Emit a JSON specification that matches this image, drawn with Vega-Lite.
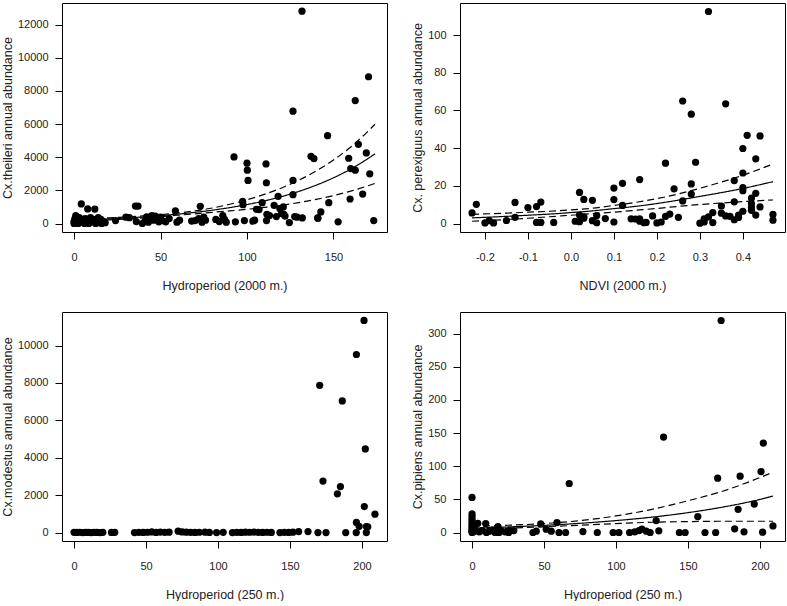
{
"$schema": "https://vega.github.io/schema/vega-lite/v6.json",
"padding": {"left": 0, "top": 2, "right": 0, "bottom": 0},
"bounds": "flush",
"columns": 2,
"spacing": {"row": 80, "column": 73},
"datasets": {
"p1": [
{"x":0,"y":0},{"x":0,"y":120},{"x":0.5,"y":300},{"x":1,"y":480},{"x":1.5,"y":60},{"x":2,"y":200},{"x":2.5,"y":0},{"x":3,"y":350},{"x":4.2,"y":1180},{"x":4.5,"y":100},{"x":5,"y":250},{"x":6,"y":0},{"x":6.5,"y":300},{"x":7.5,"y":150},{"x":7.9,"y":880},{"x":8.5,"y":0},{"x":9.5,"y":350},{"x":10,"y":100},{"x":11,"y":250},{"x":12,"y":870},{"x":12.5,"y":0},{"x":13,"y":150},{"x":14,"y":350},{"x":14.5,"y":60},{"x":15.5,"y":250},{"x":16,"y":0},{"x":17,"y":120},{"x":18,"y":50},
{"x":24,"y":180},{"x":30,"y":380},{"x":32,"y":350},{"x":35.5,"y":1050},{"x":36,"y":120},{"x":37,"y":1050},{"x":39.5,"y":0},{"x":41,"y":150},{"x":42,"y":400},{"x":43,"y":80},{"x":44,"y":300},{"x":45,"y":480},{"x":46,"y":200},{"x":47,"y":450},{"x":48,"y":300},{"x":49,"y":100},{"x":50,"y":380},{"x":51,"y":180},{"x":53,"y":100},{"x":55,"y":300},{"x":58.6,"y":760},{"x":59.5,"y":80},{"x":61,"y":200},
{"x":68,"y":150},{"x":70,"y":180},{"x":72,"y":300},{"x":73,"y":1040},{"x":74,"y":80},{"x":75,"y":380},{"x":76,"y":200},{"x":82,"y":250},{"x":84,"y":120},{"x":86,"y":480},{"x":87,"y":250},{"x":88,"y":80},
{"x":92.5,"y":4020},{"x":93.3,"y":100},{"x":97.5,"y":1340},{"x":97.7,"y":1140},{"x":98.5,"y":180},{"x":100,"y":3640},{"x":100.2,"y":3220},{"x":100.6,"y":2600},{"x":103.4,"y":140},{"x":104.4,"y":200},{"x":105.5,"y":860},{"x":107,"y":840},{"x":108.8,"y":1260},{"x":111,"y":3600},{"x":111.2,"y":2460},{"x":111.3,"y":180},{"x":111.5,"y":560},{"x":113,"y":480},{"x":115.7,"y":1100},{"x":117,"y":420},{"x":118,"y":1640},{"x":119,"y":900},{"x":120,"y":600},{"x":121,"y":1000},{"x":121.3,"y":560},{"x":122,"y":450},
{"x":124.5,"y":60},{"x":126.6,"y":6780},{"x":126.6,"y":2600},{"x":126.6,"y":1740},{"x":127.6,"y":420},{"x":129,"y":380},{"x":131.8,"y":12820},{"x":132,"y":340},{"x":137,"y":4060},{"x":138.7,"y":3920},{"x":140.9,"y":340},{"x":141,"y":320},{"x":142.7,"y":700},{"x":146.6,"y":5300},{"x":147.3,"y":1260},{"x":152.7,"y":100},{"x":158.8,"y":3940},{"x":159.6,"y":1480},{"x":160,"y":3320},{"x":162.6,"y":3220},{"x":162.6,"y":7420},{"x":164.4,"y":4780},{"x":166.9,"y":1780},{"x":169,"y":4260},{"x":170.3,"y":8860},{"x":171,"y":3000},{"x":173.3,"y":180}
],
"c1": [
{"x":0,"y":197,"s":"fit"},{"x":10,"y":235,"s":"fit"},{"x":20,"y":280,"s":"fit"},{"x":30,"y":334,"s":"fit"},{"x":40,"y":398,"s":"fit"},{"x":50,"y":475,"s":"fit"},{"x":60,"y":567,"s":"fit"},{"x":70,"y":676,"s":"fit"},{"x":80,"y":806,"s":"fit"},{"x":90,"y":960,"s":"fit"},{"x":100,"y":1145,"s":"fit"},{"x":110,"y":1365,"s":"fit"},{"x":120,"y":1627,"s":"fit"},{"x":130,"y":1940,"s":"fit"},{"x":140,"y":2315,"s":"fit"},{"x":150,"y":2759,"s":"fit"},{"x":160,"y":3290,"s":"fit"},{"x":170,"y":3924,"s":"fit"},{"x":174,"y":4206,"s":"fit"},
{"x":0,"y":256,"s":"hi"},{"x":10,"y":296,"s":"hi"},{"x":20,"y":342,"s":"hi"},{"x":30,"y":394,"s":"hi"},{"x":40,"y":458,"s":"hi"},{"x":50,"y":537,"s":"hi"},{"x":60,"y":635,"s":"hi"},{"x":70,"y":764,"s":"hi"},{"x":80,"y":935,"s":"hi"},{"x":90,"y":1162,"s":"hi"},{"x":100,"y":1431,"s":"hi"},{"x":110,"y":1761,"s":"hi"},{"x":120,"y":2148,"s":"hi"},{"x":130,"y":2619,"s":"hi"},{"x":140,"y":3172,"s":"hi"},{"x":150,"y":3835,"s":"hi"},{"x":160,"y":4622,"s":"hi"},{"x":170,"y":5572,"s":"hi"},{"x":174,"y":5994,"s":"hi"},
{"x":0,"y":138,"s":"lo"},{"x":10,"y":174,"s":"lo"},{"x":20,"y":218,"s":"lo"},{"x":30,"y":274,"s":"lo"},{"x":40,"y":338,"s":"lo"},{"x":50,"y":413,"s":"lo"},{"x":60,"y":499,"s":"lo"},{"x":70,"y":588,"s":"lo"},{"x":80,"y":677,"s":"lo"},{"x":90,"y":758,"s":"lo"},{"x":100,"y":859,"s":"lo"},{"x":110,"y":969,"s":"lo"},{"x":120,"y":1106,"s":"lo"},{"x":130,"y":1261,"s":"lo"},{"x":140,"y":1458,"s":"lo"},{"x":150,"y":1683,"s":"lo"},{"x":160,"y":1958,"s":"lo"},{"x":170,"y":2276,"s":"lo"},{"x":174,"y":2418,"s":"lo"}
],
"p2": [
{"x":-0.23,"y":5.6},{"x":-0.22,"y":10.2},{"x":-0.2,"y":0.3},{"x":-0.19,"y":1.5},{"x":-0.18,"y":0.3},{"x":-0.15,"y":1.6},{"x":-0.13,"y":11.2},{"x":-0.13,"y":3.3},{"x":-0.1,"y":8.5},{"x":-0.08,"y":9},{"x":-0.08,"y":0.6},{"x":-0.07,"y":11.4},{"x":-0.07,"y":0.6},{"x":-0.04,"y":0.6},
{"x":0.01,"y":1.2},{"x":0.02,"y":16.5},{"x":0.02,"y":1.0},{"x":0.02,"y":4.5},{"x":0.03,"y":2.8},{"x":0.03,"y":12.8},{"x":0.03,"y":3.5},{"x":0.05,"y":12.3},{"x":0.05,"y":1.5},{"x":0.06,"y":0.4},{"x":0.06,"y":4.2},{"x":0.08,"y":2.6},
{"x":0.10,"y":18.8},{"x":0.10,"y":12.7},{"x":0.10,"y":0.8},{"x":0.12,"y":21.3},{"x":0.12,"y":9.6},{"x":0.14,"y":2.5},{"x":0.15,"y":2.4},{"x":0.16,"y":23.3},{"x":0.16,"y":1.2},{"x":0.16,"y":2.5},{"x":0.17,"y":0.4},{"x":0.175,"y":0.6},
{"x":0.19,"y":4.0},{"x":0.20,"y":0.3},{"x":0.21,"y":0.8},{"x":0.22,"y":32},{"x":0.22,"y":3.8},{"x":0.23,"y":5},{"x":0.24,"y":18.4},{"x":0.25,"y":3.3},{"x":0.26,"y":65},{"x":0.26,"y":12},{"x":0.28,"y":58},{"x":0.28,"y":21},{"x":0.28,"y":15.6},{"x":0.29,"y":32.5},
{"x":0.30,"y":0.2},{"x":0.31,"y":0.8},{"x":0.31,"y":2.5},{"x":0.32,"y":112.5},{"x":0.32,"y":3.5},{"x":0.33,"y":5.8},{"x":0.33,"y":0.5},{"x":0.35,"y":9.3},{"x":0.35,"y":5.5},{"x":0.36,"y":63.5},{"x":0.36,"y":4},{"x":0.37,"y":3.8},{"x":0.38,"y":22.8},{"x":0.38,"y":11.5},{"x":0.38,"y":2.0},{"x":0.39,"y":3.2},{"x":0.39,"y":4.5},
{"x":0.40,"y":39.8},{"x":0.40,"y":26.8},{"x":0.40,"y":19},{"x":0.40,"y":17.4},{"x":0.40,"y":6.5},{"x":0.41,"y":46.8},{"x":0.42,"y":13.5},{"x":0.42,"y":10.5},{"x":0.42,"y":8.5},{"x":0.42,"y":7},{"x":0.43,"y":34.3},{"x":0.43,"y":16},{"x":0.43,"y":4.5},{"x":0.44,"y":46.5},{"x":0.44,"y":8.8},{"x":0.47,"y":4.8},{"x":0.47,"y":1.8}
],
"c2": [
{"x":-0.23,"y":3.0,"s":"fit"},{"x":-0.15,"y":3.8,"s":"fit"},{"x":-0.1,"y":4.4,"s":"fit"},{"x":-0.05,"y":5.0,"s":"fit"},{"x":0,"y":5.8,"s":"fit"},{"x":0.05,"y":6.7,"s":"fit"},{"x":0.1,"y":7.9,"s":"fit"},{"x":0.15,"y":9.1,"s":"fit"},{"x":0.2,"y":10.6,"s":"fit"},{"x":0.25,"y":12.4,"s":"fit"},{"x":0.3,"y":14.4,"s":"fit"},{"x":0.35,"y":16.4,"s":"fit"},{"x":0.4,"y":18.6,"s":"fit"},{"x":0.47,"y":22.2,"s":"fit"},
{"x":-0.23,"y":4.9,"s":"hi"},{"x":-0.15,"y":5.5,"s":"hi"},{"x":-0.1,"y":6.0,"s":"hi"},{"x":-0.05,"y":6.5,"s":"hi"},{"x":0,"y":7.2,"s":"hi"},{"x":0.05,"y":8.1,"s":"hi"},{"x":0.1,"y":9.6,"s":"hi"},{"x":0.15,"y":11.2,"s":"hi"},{"x":0.2,"y":13.2,"s":"hi"},{"x":0.25,"y":15.7,"s":"hi"},{"x":0.3,"y":18.7,"s":"hi"},{"x":0.35,"y":22.0,"s":"hi"},{"x":0.4,"y":25.6,"s":"hi"},{"x":0.47,"y":31.6,"s":"hi"},
{"x":-0.23,"y":1.2,"s":"lo"},{"x":-0.15,"y":2.1,"s":"lo"},{"x":-0.1,"y":2.8,"s":"lo"},{"x":-0.05,"y":3.6,"s":"lo"},{"x":0,"y":4.4,"s":"lo"},{"x":0.05,"y":5.2,"s":"lo"},{"x":0.1,"y":6.0,"s":"lo"},{"x":0.15,"y":7.0,"s":"lo"},{"x":0.2,"y":8.0,"s":"lo"},{"x":0.25,"y":9.1,"s":"lo"},{"x":0.3,"y":10.1,"s":"lo"},{"x":0.35,"y":10.9,"s":"lo"},{"x":0.4,"y":11.6,"s":"lo"},{"x":0.47,"y":12.5,"s":"lo"}
],
"p3": [
{"x":0,"y":10},{"x":2,"y":5},{"x":4,"y":15},{"x":6,"y":0},{"x":8,"y":10},{"x":10,"y":5},{"x":12,"y":0},{"x":14,"y":10},{"x":16,"y":5},{"x":18,"y":0},{"x":20,"y":10},{"x":26,"y":5},{"x":28.3,"y":10},
{"x":42,"y":0},{"x":45,"y":10},{"x":48,"y":5},{"x":51,"y":15},{"x":54,"y":30},{"x":57,"y":5},{"x":60,"y":25},{"x":63,"y":10},{"x":66,"y":20},
{"x":72.3,"y":70},{"x":75,"y":30},{"x":78,"y":20},{"x":81,"y":10},{"x":84,"y":5},{"x":87,"y":15},{"x":91,"y":20},{"x":94,"y":5},{"x":99,"y":0},{"x":103.6,"y":10},
{"x":110,"y":0},{"x":113,"y":10},{"x":116,"y":5},{"x":119,"y":20},{"x":122,"y":15},{"x":125,"y":25},{"x":128,"y":10},{"x":131,"y":5},{"x":134,"y":15},{"x":137,"y":5},
{"x":143,"y":0},{"x":146,"y":10},{"x":149,"y":5},{"x":152,"y":20},{"x":156,"y":50},{"x":162.5,"y":50},{"x":169.4,"y":0},{"x":175,"y":0},{"x":188.7,"y":0},{"x":196,"y":0},{"x":203,"y":0},
{"x":170.6,"y":7870},{"x":172.9,"y":2750},{"x":182.9,"y":2070},{"x":185,"y":2460},{"x":186.3,"y":7040},{"x":196.1,"y":9520},{"x":196.1,"y":540},{"x":198,"y":330},{"x":201.4,"y":11340},{"x":201.6,"y":1390},{"x":202.3,"y":4470},{"x":203,"y":320},{"x":204,"y":310},{"x":209,"y":980}
],
"p4": [
{"x":0,"y":53},{"x":0,"y":28},{"x":0,"y":24},{"x":0,"y":20},{"x":0,"y":16},{"x":0,"y":13},{"x":0,"y":10},{"x":0,"y":7},{"x":0,"y":4},{"x":0,"y":2},{"x":0,"y":0},
{"x":1,"y":1},{"x":2,"y":6},{"x":4,"y":14},{"x":5,"y":1},{"x":7,"y":3},{"x":9.5,"y":13.5},{"x":10,"y":0},{"x":12,"y":2},{"x":14,"y":4},{"x":16,"y":0},{"x":18,"y":9},{"x":18.7,"y":0},{"x":20,"y":3},{"x":23,"y":1},{"x":25.4,"y":0},{"x":26,"y":3},{"x":29,"y":3},
{"x":42.3,"y":0},{"x":44.6,"y":2},{"x":47.7,"y":13},{"x":51.5,"y":5},{"x":55,"y":2},{"x":59,"y":15},{"x":60.4,"y":0},{"x":65,"y":0},{"x":67.5,"y":74},{"x":77,"y":1.5},{"x":87,"y":0},{"x":98,"y":0},{"x":102,"y":0},
{"x":109.4,"y":0},{"x":113,"y":1},{"x":116,"y":3},{"x":118,"y":5},{"x":121,"y":2},{"x":123.7,"y":0},{"x":127.9,"y":18},{"x":129.7,"y":2.5},{"x":133,"y":144},{"x":144,"y":0},{"x":148,"y":0},{"x":156.8,"y":24},{"x":161.8,"y":0},{"x":169.2,"y":0},{"x":170.6,"y":82},{"x":173,"y":320},{"x":182.4,"y":5.5},{"x":184.8,"y":35},{"x":186.2,"y":85},{"x":188.9,"y":1},{"x":196,"y":43},{"x":200.7,"y":92},{"x":201.8,"y":0.5},{"x":202.3,"y":135},{"x":209,"y":10}
],
"c4": [
{"x":0,"y":6.5,"s":"fit"},{"x":25,"y":8.4,"s":"fit"},{"x":50,"y":10.8,"s":"fit"},{"x":75,"y":13.9,"s":"fit"},{"x":100,"y":18.0,"s":"fit"},{"x":125,"y":23.2,"s":"fit"},{"x":150,"y":30.0,"s":"fit"},{"x":175,"y":38.7,"s":"fit"},{"x":200,"y":50.0,"s":"fit"},{"x":209,"y":55.0,"s":"fit"},
{"x":0,"y":9.5,"s":"hi"},{"x":25,"y":11,"s":"hi"},{"x":50,"y":13.5,"s":"hi"},{"x":75,"y":18,"s":"hi"},{"x":100,"y":25,"s":"hi"},{"x":125,"y":35,"s":"hi"},{"x":150,"y":48,"s":"hi"},{"x":175,"y":63,"s":"hi"},{"x":200,"y":83,"s":"hi"},{"x":209,"y":91,"s":"hi"},
{"x":0,"y":4.0,"s":"lo"},{"x":25,"y":6.5,"s":"lo"},{"x":50,"y":8.8,"s":"lo"},{"x":75,"y":11.0,"s":"lo"},{"x":100,"y":13.5,"s":"lo"},{"x":125,"y":15.5,"s":"lo"},{"x":150,"y":16.5,"s":"lo"},{"x":175,"y":17,"s":"lo"},{"x":200,"y":17,"s":"lo"},{"x":209,"y":17,"s":"lo"}
]
},
"concat": [
{"width": 325, "height": 229,
 "encoding": {
  "x": {"field": "x", "type": "quantitative", "scale": {"domain": [-6.96, 180.96], "nice": false, "zero": false}, "axis": {"values": [0, 50, 100, 150], "format": "d", "title": "Hydroperiod (2000 m.)"}},
  "y": {"field": "y", "type": "quantitative", "scale": {"domain": [-512, 13312], "nice": false, "zero": false}, "axis": {"values": [0, 2000, 4000, 6000, 8000, 10000, 12000], "format": "d", "title": "Cx.theileri annual abundance"}}
 },
 "layer": [
  {"data": {"name": "p1"}, "mark": {"type": "circle", "size": 52, "color": "black", "opacity": 1}},
  {"data": {"name": "c1"}, "mark": {"type": "line", "color": "black", "strokeWidth": 1.2, "interpolate": "monotone"}, "encoding": {"detail": {"field": "s"}, "strokeDash": {"field": "s", "type": "nominal", "scale": {"domain": ["fit", "hi", "lo"], "range": [[1, 0], [7, 4], [7, 4]]}, "legend": null}}}
 ]},
{"width": 325, "height": 229,
 "encoding": {
  "x": {"field": "x", "type": "quantitative", "scale": {"domain": [-0.258, 0.498], "nice": false, "zero": false}, "axis": {"values": [-0.2, -0.1, 0, 0.1, 0.2, 0.3, 0.4], "labelExpr": "datum.value < 0 ? '-' + format(-datum.value, '.1f') : format(datum.value, '.1f')", "title": "NDVI (2000 m.)"}},
  "y": {"field": "y", "type": "quantitative", "scale": {"domain": [-4.5, 117], "nice": false, "zero": false}, "axis": {"values": [0, 20, 40, 60, 80, 100], "format": "d", "title": "Cx. perexiguus annual abundance"}}
 },
 "layer": [
  {"data": {"name": "p2"}, "mark": {"type": "circle", "size": 52, "color": "black", "opacity": 1}},
  {"data": {"name": "c2"}, "mark": {"type": "line", "color": "black", "strokeWidth": 1.2, "interpolate": "monotone"}, "encoding": {"detail": {"field": "s"}, "strokeDash": {"field": "s", "type": "nominal", "scale": {"domain": ["fit", "hi", "lo"], "range": [[1, 0], [7, 4], [7, 4]]}, "legend": null}}}
 ]},
{"width": 325, "height": 229,
 "encoding": {
  "x": {"field": "x", "type": "quantitative", "scale": {"domain": [-8.36, 217.36], "nice": false, "zero": false}, "axis": {"values": [0, 50, 100, 150, 200], "format": "d", "title": "Hydroperiod (250 m.)"}},
  "y": {"field": "y", "type": "quantitative", "scale": {"domain": [-453, 11793], "nice": false, "zero": false}, "axis": {"values": [0, 2000, 4000, 6000, 8000, 10000], "format": "d", "title": "Cx.modestus annual abundance"}}
 },
 "layer": [
  {"data": {"name": "p3"}, "mark": {"type": "circle", "size": 52, "color": "black", "opacity": 1}}
 ]},
{"width": 325, "height": 229,
 "encoding": {
  "x": {"field": "x", "type": "quantitative", "scale": {"domain": [-8.36, 217.36], "nice": false, "zero": false}, "axis": {"values": [0, 50, 100, 150, 200], "format": "d", "title": "Hydroperiod (250 m.)"}},
  "y": {"field": "y", "type": "quantitative", "scale": {"domain": [-12.8, 332.8], "nice": false, "zero": false}, "axis": {"values": [0, 50, 100, 150, 200, 250, 300], "format": "d", "title": "Cx.pipiens annual abundance"}}
 },
 "layer": [
  {"data": {"name": "p4"}, "mark": {"type": "circle", "size": 52, "color": "black", "opacity": 1}},
  {"data": {"name": "c4"}, "mark": {"type": "line", "color": "black", "strokeWidth": 1.2, "interpolate": "monotone"}, "encoding": {"detail": {"field": "s"}, "strokeDash": {"field": "s", "type": "nominal", "scale": {"domain": ["fit", "hi", "lo"], "range": [[1, 0], [7, 4], [7, 4]]}, "legend": null}}}
 ]}
],
"config": {
 "background": "white",
 "view": {"stroke": "black", "strokeWidth": 1},
 "axis": {"domain": false, "grid": false, "ticks": true, "tickColor": "black", "tickSize": 7, "tickWidth": 1, "labelFont": "Liberation Sans", "labelFontSize": 11, "labelColor": "#222", "titleFont": "Liberation Sans", "titleFontSize": 12.5, "titleFontWeight": "normal", "titleColor": "#222"},
 "axisY": {"labelAngle": 0, "labelPadding": 7, "titlePadding": 3},
 "axisX": {"labelPadding": 12, "titlePadding": 17}
}
}
